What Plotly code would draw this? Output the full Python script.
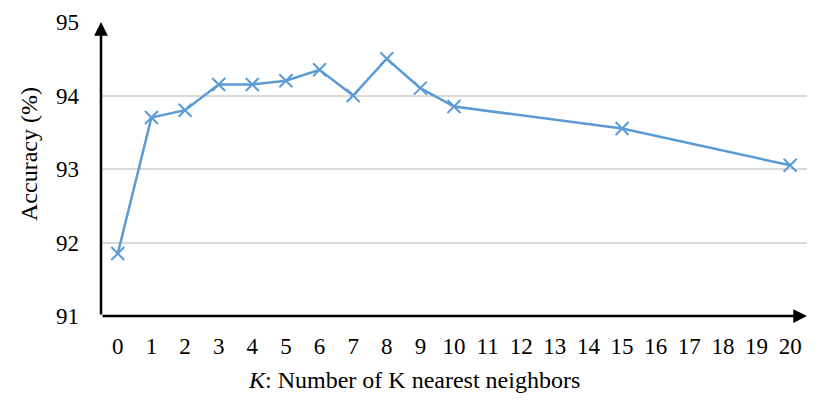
import plotly.graph_objects as go

k_values = [0, 1, 2, 3, 4, 5, 6, 7, 8, 9, 10, 15, 20]
accuracy = [91.85, 93.70, 93.80, 94.15, 94.15, 94.20, 94.35, 94.00, 94.50, 94.10, 93.85, 93.55, 93.05]

x_ticks = list(range(0, 21))
y_ticks = [91, 92, 93, 94, 95]

x_title = '<i>K</i>: Number of K nearest neighbors'
y_title = 'Accuracy (%)'

serif = 'Liberation Serif'
tick_font = {'family': serif, 'size': 23, 'color': 'black'}
title_font = {'family': serif, 'size': 24, 'color': 'black'}

fig = go.Figure()

fig.add_trace(
    go.Scatter(
        x = k_values,
        y = accuracy,
        mode = 'lines+markers',
        line = {'color': '#5b9bd5', 'width': 2.5},
        marker = {
            'symbol': 'x-thin',
            'size': 13,
            'line': {'color': '#5b9bd5', 'width': 2}
        },
        cliponaxis = False,
        showlegend = False
    )
)

# axis arrows
fig.add_annotation(
    x = 20.5, y = 91, ax = -0.5, ay = 91,
    xref = 'x', yref = 'y', axref = 'x', ayref = 'y',
    text = '', showarrow = True,
    arrowhead = 2, arrowsize = 1.1, arrowwidth = 2.5, arrowcolor = 'black'
)
fig.add_annotation(
    x = -0.5, y = 95, ax = -0.5, ay = 91,
    xref = 'x', yref = 'y', axref = 'x', ayref = 'y',
    text = '', showarrow = True,
    arrowhead = 2, arrowsize = 1.1, arrowwidth = 2.5, arrowcolor = 'black'
)

# axis titles sit off-centre in the original, so place them as annotations
fig.add_annotation(
    x = 0.443, y = -0.218, xref = 'paper', yref = 'paper',
    xanchor = 'center', yanchor = 'middle',
    text = x_title, showarrow = False, font = title_font
)
fig.add_annotation(
    x = -0.102, y = 0.551, xref = 'paper', yref = 'paper',
    xanchor = 'center', yanchor = 'middle', textangle = -90,
    text = y_title, showarrow = False, font = title_font
)

# page has an 8px body margin, so shift the plot area back by 8px
fig.update_layout(
    width = 830,
    height = 408,
    margin = {'l': 93, 'r': 31, 't': 14, 'b': 100, 'autoexpand': False},
    paper_bgcolor = 'white',
    plot_bgcolor = 'white',
    font = {'family': serif, 'size': 20, 'color': 'black'},
    xaxis = {
        'range': [-0.5, 20.5],
        'tickvals': x_ticks,
        'tickfont': tick_font,
        'showgrid': False,
        'zeroline': False,
        'showline': False,
        'ticks': '',
        'automargin': False,
        'ticklabelstandoff': 14
    },
    yaxis = {
        'range': [91, 95],
        'tickvals': y_ticks,
        'tickfont': tick_font,
        'showgrid': True,
        'gridcolor': '#d9d9d9',
        'gridwidth': 1.5,
        'zeroline': False,
        'showline': False,
        'ticks': '',
        'automargin': False,
        'ticklabelstandoff': 21
    }
)

fig.write_html("out.html")
